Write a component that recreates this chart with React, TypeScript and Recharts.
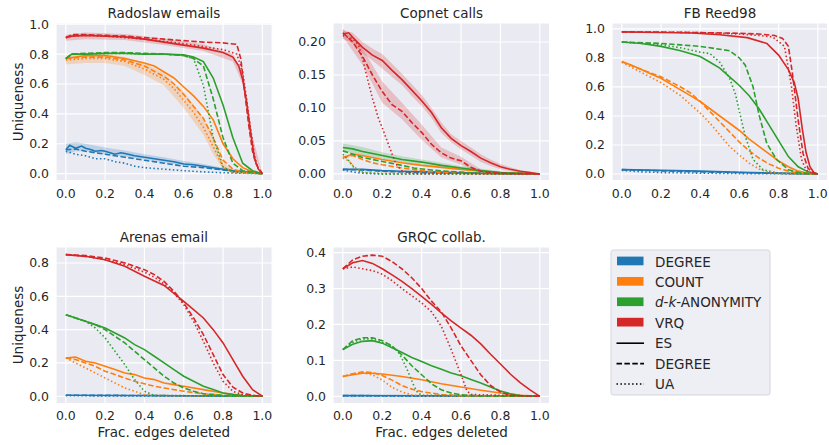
import { ComposedChart, Line, Area, XAxis, YAxis, CartesianGrid } from 'recharts';

type Pt = [number, number];
type Bd = [number, number, number];

// method colours (tab10) and line styles
const colors = ['#1f77b4', '#ff7f0e', '#2ca02c', '#d62728'];
const dashes = [undefined, '5.5 2.4', '1.5 2.4'];
const methodNames = ['DEGREE', 'COUNT', 'd-k-ANONYMITY', 'VRQ'];
const styleNames = ['ES', 'DEGREE', 'UA'];
const xTicks = [0, 0.2, 0.4, 0.6, 0.8, 1.0];

// ---------- Radoslaw emails ----------
const rDegES: Pt[] = [[0,.16],[.02,.19],[.05,.17],[.08,.185],[.1,.17],[.13,.16],[.15,.15],[.18,.155],[.2,.15],[.25,.13],[.28,.14],[.3,.135],[.35,.12],[.4,.11],[.45,.1],[.5,.09],[.55,.08],[.6,.065],[.65,.06],[.7,.05],[.75,.04],[.8,.03],[.85,.02],[.9,.015],[.95,.008],[1,0]];
const rDegDG: Pt[] = [[0,.16],[.05,.165],[.1,.15],[.15,.14],[.2,.13],[.25,.12],[.3,.11],[.35,.1],[.4,.09],[.45,.08],[.5,.07],[.55,.06],[.6,.05],[.7,.04],[.8,.025],[.9,.012],[1,0]];
const rDegUA: Pt[] = [[0,.15],[.05,.13],[.1,.12],[.15,.1],[.2,.1],[.25,.08],[.3,.07],[.35,.05],[.4,.04],[.45,.035],[.5,.03],[.6,.02],[.7,.012],[.8,.006],[.9,.003],[1,0]];
const rCntES: Pt[] = [[0,.77],[.05,.78],[.1,.79],[.2,.79],[.3,.77],[.4,.74],[.45,.72],[.5,.68],[.55,.64],[.6,.58],[.65,.52],[.7,.45],[.75,.36],[.8,.2],[.85,.1],[.9,.04],[.95,.012],[1,0]];
const rCntDG: Pt[] = [[0,.77],[.1,.78],[.2,.78],[.3,.76],[.4,.72],[.5,.65],[.55,.6],[.6,.53],[.65,.45],[.7,.37],[.75,.24],[.8,.09],[.85,.03],[.9,.01],[1,0]];
const rCntUA: Pt[] = [[0,.76],[.1,.77],[.2,.77],[.3,.75],[.4,.7],[.5,.63],[.55,.57],[.6,.49],[.65,.41],[.7,.31],[.75,.18],[.8,.045],[.85,.01],[1,0]];
const rDkES: Pt[] = [[0,.77],[.03,.8],[.1,.8],[.2,.805],[.3,.805],[.4,.8],[.5,.8],[.6,.795],[.65,.78],[.7,.75],[.75,.64],[.8,.46],[.85,.24],[.9,.07],[.95,.02],[1,0]];
const rDkDG: Pt[] = [[0,.77],[.03,.8],[.1,.805],[.2,.81],[.3,.81],[.4,.805],[.5,.8],[.6,.79],[.65,.77],[.7,.72],[.75,.5],[.8,.24],[.85,.07],[.9,.02],[1,0]];
const rDkUA: Pt[] = [[0,.77],[.03,.8],[.1,.8],[.2,.805],[.3,.805],[.4,.8],[.5,.8],[.6,.79],[.65,.77],[.7,.59],[.75,.24],[.8,.045],[.85,.01],[1,0]];
const rVrqES: Pt[] = [[0,.91],[.03,.92],[.1,.925],[.2,.92],[.3,.915],[.4,.9],[.5,.88],[.6,.86],[.7,.84],[.8,.81],[.85,.78],[.88,.72],[.9,.63],[.92,.48],[.94,.28],[.96,.1],[.98,.03],[1,0]];
const rVrqDG: Pt[] = [[0,.91],[.03,.93],[.1,.93],[.2,.925],[.3,.92],[.4,.91],[.5,.9],[.6,.89],[.7,.88],[.8,.875],[.87,.865],[.89,.77],[.91,.55],[.93,.33],[.95,.15],[.97,.06],[1,0]];
const rVrqUA: Pt[] = [[0,.91],[.03,.92],[.1,.925],[.2,.92],[.3,.91],[.4,.9],[.5,.885],[.6,.87],[.7,.85],[.8,.83],[.87,.8],[.9,.68],[.92,.5],[.94,.3],[.96,.12],[.98,.03],[1,0]];
const rDegESband: Bd[] = [[0,.13,.2],[.05,.15,.21],[.1,.15,.2],[.2,.13,.175],[.3,.115,.155],[.4,.095,.13],[.5,.075,.11],[.6,.055,.085],[.7,.04,.065],[.8,.02,.04],[.9,.008,.022],[1,0,0]];
const rCntUAband: Bd[] = [[0,.73,.79],[.1,.74,.8],[.2,.74,.8],[.3,.72,.78],[.4,.66,.74],[.5,.59,.67],[.6,.44,.55],[.7,.26,.37],[.75,.13,.24],[.8,.03,.08],[.85,0,.02],[1,0,0]];
const rVrqESband: Bd[] = [[0,.89,.93],[.1,.9,.945],[.3,.895,.935],[.5,.86,.905],[.7,.82,.865],[.85,.75,.8],[.9,.6,.68],[.95,.15,.25],[1,0,0]];

// ---------- Copnet calls ----------
const cDegES: Pt[] = [[0,.007],[.1,.007],[.2,.005],[.3,.004],[.5,.003],[.7,.001],[1,0]];
const cDegDG: Pt[] = [[0,.007],[.1,.006],[.2,.004],[.4,.002],[.6,.001],[1,0]];
const cDegUA: Pt[] = [[0,.006],[.05,.003],[.1,.001],[.2,0],[1,0]];
const cCntES: Pt[] = [[0,.025],[.05,.03],[.1,.028],[.2,.022],[.3,.017],[.4,.013],[.5,.01],[.6,.007],[.7,.004],[.8,.002],[1,0]];
const cCntDG: Pt[] = [[0,.025],[.05,.028],[.1,.022],[.15,.017],[.2,.014],[.3,.009],[.4,.005],[.5,.002],[.6,.001],[1,0]];
const cCntUA: Pt[] = [[0,.024],[.03,.02],[.06,.01],[.1,.003],[.15,.001],[1,0]];
const cDkES: Pt[] = [[0,.04],[.05,.038],[.1,.034],[.15,.031],[.2,.028],[.3,.022],[.4,.018],[.5,.013],[.6,.009],[.7,.005],[.8,.002],[.9,.001],[1,0]];
const cDkDG: Pt[] = [[0,.035],[.05,.03],[.1,.025],[.2,.019],[.25,.016],[.3,.013],[.36,.009],[.45,.006],[.53,.004],[.7,.001],[1,0]];
const cDkUA: Pt[] = [[0,.03],[.03,.02],[.06,.008],[.1,.002],[.2,0],[1,0]];
const cVrqES: Pt[] = [[0,.212],[.03,.214],[.05,.207],[.1,.192],[.15,.18],[.2,.172],[.25,.157],[.3,.143],[.35,.127],[.4,.111],[.45,.093],[.5,.07],[.55,.054],[.6,.043],[.65,.034],[.7,.024],[.75,.017],[.8,.011],[.85,.007],[.9,.004],[.95,.002],[1,0]];
const cVrqDG: Pt[] = [[0,.214],[.05,.2],[.1,.178],[.15,.15],[.2,.125],[.25,.105],[.3,.095],[.35,.078],[.4,.063],[.45,.045],[.5,.032],[.55,.024],[.6,.02],[.65,.01],[.7,.004],[.8,.001],[1,0]];
const cVrqUA: Pt[] = [[0,.21],[.05,.205],[.08,.195],[.1,.175],[.12,.15],[.15,.115],[.18,.085],[.2,.07],[.23,.046],[.25,.03],[.27,.015],[.3,.005],[.35,.001],[1,0]];
const cDkESband: Bd[] = [[0,.034,.046],[.1,.029,.041],[.2,.023,.033],[.3,.018,.027],[.4,.014,.022],[.5,.01,.017],[.6,.006,.012],[.8,.001,.004],[1,0,0]];
const cVrqESband: Bd[] = [[0,.205,.218],[.05,.198,.214],[.1,.183,.2],[.15,.172,.19],[.2,.16,.182],[.25,.147,.167],[.3,.135,.152],[.35,.118,.136],[.4,.103,.12],[.45,.085,.1],[.5,.062,.078],[.55,.048,.06],[.6,.037,.05],[.65,.028,.04],[.7,.018,.03],[.75,.012,.022],[.8,.007,.015],[.85,.004,.01],[.9,.002,.006],[1,0,.001]];
const cVrqDGband: Bd[] = [[0,.208,.22],[.1,.165,.19],[.2,.108,.14],[.3,.083,.108],[.4,.052,.075],[.5,.025,.04],[.6,.014,.026],[.7,.001,.007],[.8,0,.002],[1,0,0]];

// ---------- FB Reed98 ----------
const fDegES: Pt[] = [[0,.03],[.2,.025],[.4,.02],[.6,.012],[.8,.006],[1,0]];
const fDegDG: Pt[] = [[0,.03],[.2,.022],[.4,.015],[.6,.01],[.8,.004],[1,0]];
const fDegUA: Pt[] = [[0,.025],[.1,.015],[.2,.01],[.4,.006],[.6,.003],[1,0]];
const fCntES: Pt[] = [[0,.775],[.05,.75],[.1,.72],[.15,.69],[.2,.66],[.25,.62],[.3,.58],[.35,.54],[.4,.5],[.45,.45],[.5,.4],[.55,.35],[.6,.3],[.65,.24],[.7,.19],[.75,.14],[.8,.09],[.85,.05],[.9,.02],[.95,.005],[1,0]];
const fCntDG: Pt[] = [[0,.775],[.1,.72],[.2,.67],[.3,.6],[.35,.56],[.4,.5],[.45,.43],[.5,.36],[.55,.29],[.6,.22],[.65,.16],[.7,.11],[.75,.07],[.8,.04],[.85,.02],[.9,.007],[1,0]];
const fCntUA: Pt[] = [[0,.77],[.1,.7],[.2,.63],[.3,.54],[.35,.48],[.4,.42],[.45,.35],[.5,.27],[.55,.19],[.6,.13],[.65,.075],[.7,.035],[.75,.012],[.8,.004],[1,0]];
const fDkES: Pt[] = [[0,.91],[.1,.9],[.2,.88],[.3,.85],[.4,.81],[.45,.77],[.5,.73],[.55,.67],[.6,.61],[.65,.54],[.7,.45],[.75,.34],[.8,.23],[.85,.12],[.9,.05],[.95,.015],[1,0]];
const fDkDG: Pt[] = [[0,.91],[.2,.9],[.3,.89],[.4,.88],[.5,.86],[.55,.85],[.6,.8],[.63,.75],[.67,.6],[.7,.41],[.74,.21],[.79,.1],[.85,.03],[.9,.01],[1,0]];
const fDkUA: Pt[] = [[0,.91],[.2,.89],[.3,.87],[.4,.84],[.45,.83],[.5,.77],[.55,.66],[.58,.55],[.6,.43],[.63,.26],[.67,.1],[.72,.03],[.8,.005],[1,0]];
const fVrqES: Pt[] = [[0,.98],[.2,.975],[.36,.972],[.5,.96],[.64,.94],[.74,.9],[.8,.82],[.85,.72],[.88,.63],[.9,.52],[.92,.32],[.94,.15],[.96,.05],[.98,.01],[1,0]];
const fVrqDG: Pt[] = [[0,.98],[.2,.978],[.4,.975],[.6,.97],[.7,.965],[.78,.955],[.82,.935],[.85,.88],[.87,.7],[.9,.37],[.925,.14],[.95,.04],[.98,.005],[1,0]];
const fVrqUA: Pt[] = [[0,.98],[.2,.978],[.4,.975],[.6,.965],[.7,.955],[.77,.945],[.83,.88],[.866,.6],[.89,.33],[.917,.1],[.94,.03],[.97,.005],[1,0]];

// ---------- Arenas email ----------
const aDegES: Pt[] = [[0,.006],[.3,.005],[.6,.003],[.8,.002],[1,0]];
const aDegDG: Pt[] = [[0,.006],[.3,.005],[.6,.003],[.8,.001],[1,0]];
const aDegUA: Pt[] = [[0,.004],[.2,.002],[.5,.001],[1,0]];
const aCntES: Pt[] = [[0,.23],[.05,.235],[.1,.21],[.15,.2],[.2,.18],[.25,.16],[.3,.14],[.35,.13],[.4,.11],[.45,.1],[.5,.08],[.55,.07],[.6,.06],[.7,.04],[.8,.02],[.9,.005],[1,0]];
const aCntDG: Pt[] = [[0,.23],[.05,.22],[.1,.2],[.15,.18],[.2,.15],[.25,.13],[.3,.11],[.35,.09],[.4,.075],[.45,.06],[.5,.05],[.6,.03],[.7,.015],[.8,.005],[1,0]];
const aCntUA: Pt[] = [[0,.23],[.05,.2],[.1,.17],[.15,.14],[.2,.11],[.25,.08],[.3,.05],[.35,.03],[.4,.01],[.45,.004],[1,0]];
const aDkES: Pt[] = [[0,.49],[.05,.47],[.1,.45],[.15,.43],[.2,.41],[.25,.38],[.3,.35],[.35,.31],[.4,.28],[.45,.24],[.5,.2],[.55,.16],[.6,.12],[.65,.09],[.7,.06],[.75,.04],[.8,.02],[.85,.01],[.9,.005],[1,0]];
const aDkDG: Pt[] = [[0,.49],[.05,.47],[.1,.45],[.15,.43],[.2,.4],[.25,.36],[.3,.32],[.35,.27],[.4,.22],[.45,.17],[.5,.12],[.55,.08],[.6,.05],[.65,.03],[.7,.015],[.8,.005],[1,0]];
const aDkUA: Pt[] = [[0,.49],[.05,.47],[.1,.45],[.15,.41],[.2,.35],[.25,.27],[.3,.19],[.35,.1],[.4,.03],[.45,.005],[1,0]];
const aVrqES: Pt[] = [[0,.85],[.1,.84],[.2,.82],[.3,.78],[.4,.72],[.5,.665],[.6,.57],[.65,.52],[.7,.47],[.75,.4],[.8,.32],[.85,.22],[.9,.12],[.95,.04],[1,0]];
const aVrqDG: Pt[] = [[0,.85],[.1,.845],[.2,.83],[.3,.8],[.4,.76],[.45,.73],[.5,.69],[.55,.63],[.6,.56],[.65,.47],[.7,.37],[.75,.25],[.8,.13],[.85,.055],[.9,.02],[.95,.005],[1,0]];
const aVrqUA: Pt[] = [[0,.85],[.1,.84],[.2,.82],[.3,.79],[.4,.745],[.45,.715],[.5,.675],[.55,.62],[.6,.55],[.65,.45],[.7,.33],[.75,.2],[.8,.09],[.85,.03],[.9,.01],[1,0]];

// ---------- GRQC collab. ----------
const gDegES: Pt[] = [[0,.002],[.5,.0015],[1,0]];
const gDegDG: Pt[] = [[0,.002],[.5,.001],[1,0]];
const gDegUA: Pt[] = [[0,.001],[.3,.0005],[1,0]];
const gCntES: Pt[] = [[0,.055],[.05,.06],[.1,.064],[.15,.064],[.2,.062],[.3,.055],[.4,.046],[.5,.035],[.6,.026],[.7,.017],[.8,.009],[.9,.003],[1,0]];
const gCntDG: Pt[] = [[0,.055],[.05,.063],[.1,.068],[.15,.066],[.2,.058],[.25,.045],[.3,.03],[.35,.02],[.4,.013],[.5,.005],[.6,.002],[1,0]];
const gCntUA: Pt[] = [[0,.055],[.05,.062],[.1,.065],[.15,.06],[.2,.045],[.25,.025],[.3,.012],[.35,.004],[.4,.001],[1,0]];
const gDkES: Pt[] = [[0,.13],[.05,.145],[.1,.153],[.15,.155],[.2,.148],[.25,.135],[.3,.122],[.35,.108],[.4,.097],[.45,.085],[.5,.075],[.55,.065],[.6,.057],[.65,.047],[.7,.037],[.75,.026],[.8,.015],[.85,.007],[.9,.002],[1,0]];
const gDkDG: Pt[] = [[0,.13],[.05,.155],[.1,.163],[.15,.163],[.2,.155],[.25,.14],[.3,.115],[.35,.085],[.4,.06],[.45,.035],[.5,.018],[.55,.009],[.6,.004],[.7,.001],[1,0]];
const gDkUA: Pt[] = [[0,.13],[.05,.15],[.1,.16],[.15,.16],[.2,.15],[.25,.14],[.28,.125],[.3,.105],[.33,.07],[.36,.03],[.38,.01],[.4,.003],[1,0]];
const gVrqES: Pt[] = [[0,.355],[.05,.372],[.1,.378],[.15,.37],[.2,.355],[.25,.338],[.3,.32],[.35,.3],[.4,.278],[.45,.256],[.5,.232],[.55,.21],[.6,.19],[.65,.17],[.7,.146],[.75,.117],[.8,.09],[.85,.062],[.9,.038],[.95,.018],[1,0]];
const gVrqDG: Pt[] = [[0,.355],[.05,.38],[.1,.39],[.15,.393],[.2,.39],[.25,.375],[.3,.355],[.35,.33],[.4,.3],[.45,.265],[.5,.235],[.55,.19],[.6,.14],[.65,.1],[.7,.06],[.75,.03],[.8,.012],[.85,.003],[1,0]];
const gVrqUA: Pt[] = [[0,.355],[.05,.36],[.1,.355],[.15,.35],[.2,.34],[.25,.322],[.3,.3],[.35,.28],[.4,.26],[.45,.235],[.5,.195],[.55,.13],[.6,.06],[.63,.015],[.65,.005],[1,0]];

const YW = 50;
const XH = 24;
const MT = 12; // room above the plot so the top tick label isn't clipped
const MR = 12;
const FONT = 'DejaVu Sans';
const TXT = '#262626';

const f1 = (v: number) => v.toFixed(1);
const f2 = (v: number) => v.toFixed(2);

function buildTable(lines: Pt[][], bands: { idx: number; pts: Bd[] }[]) {
  const rows = new Map<number, any>();
  const row = (x: number) => {
    if (!rows.has(x)) rows.set(x, { x });
    return rows.get(x);
  };
  lines.forEach((pts, i) => pts.forEach(([x, y]) => { row(x)['s' + i] = y; }));
  bands.forEach((b, j) => b.pts.forEach(([x, lo, hi]) => { row(x)['b' + j] = [lo, hi]; }));
  return [...rows.values()].sort((a, b) => a.x - b.x);
}

const panels = [
  { title: 'Radoslaw emails', left: 55.7, top: 23, w: 216.2, h: 157.7, dom: [-0.047, 1.008], ticks: [0, .2, .4, .6, .8, 1], fmt: f1, ylabel: true, xlabel: false,
    lines: [rDegES, rDegDG, rDegUA, rCntES, rCntDG, rCntUA, rDkES, rDkDG, rDkUA, rVrqES, rVrqDG, rVrqUA],
    bands: [{ idx: 0, pts: rDegESband }, { idx: 5, pts: rCntUAband }, { idx: 9, pts: rVrqESband }] },
  { title: 'Copnet calls', left: 333.2, top: 23, w: 216.7, h: 157.7, dom: [-0.0102, 0.2288], ticks: [0, .05, .1, .15, .2], fmt: f2, ylabel: false, xlabel: false,
    lines: [cDegES, cDegDG, cDegUA, cCntES, cCntDG, cCntUA, cDkES, cDkDG, cDkUA, cVrqES, cVrqDG, cVrqUA],
    bands: [{ idx: 6, pts: cDkESband }, { idx: 9, pts: cVrqESband }, { idx: 10, pts: cVrqDGband }] },
  { title: 'FB Reed98', left: 612.2, top: 23, w: 215.6, h: 157.7, dom: [-0.046, 1.041], ticks: [0, .2, .4, .6, .8, 1], fmt: f1, ylabel: false, xlabel: false,
    lines: [fDegES, fDegDG, fDegUA, fCntES, fCntDG, fCntUA, fDkES, fDkDG, fDkUA, fVrqES, fVrqDG, fVrqUA], bands: [] },
  { title: 'Arenas email', left: 55.7, top: 246.7, w: 216.2, h: 156.6, dom: [-0.044, 0.896], ticks: [0, .2, .4, .6, .8], fmt: f1, ylabel: true, xlabel: true,
    lines: [aDegES, aDegDG, aDegUA, aCntES, aCntDG, aCntUA, aDkES, aDkDG, aDkUA, aVrqES, aVrqDG, aVrqUA], bands: [] },
  { title: 'GRQC collab.', left: 333.2, top: 246.7, w: 216.7, h: 156.6, dom: [-0.0203, 0.4157], ticks: [0, .1, .2, .3, .4], fmt: f1, ylabel: false, xlabel: true,
    lines: [gDegES, gDegDG, gDegUA, gCntES, gCntDG, gCntUA, gDkES, gDkDG, gDkUA, gVrqES, gVrqDG, gVrqUA], bands: [] },
];

function Panel({ p }: { p: (typeof panels)[number] }) {
  const data = buildTable(p.lines, p.bands);
  const tick = { fill: TXT, fontSize: 12.5, fontFamily: FONT };
  return (
    <div style={{ position: 'absolute', left: p.left - YW, top: p.top - MT }}>
      <ComposedChart width={YW + p.w + MR} height={MT + p.h + XH} data={data} margin={{ top: MT, right: MR, bottom: 0, left: 0 }}>
        <CartesianGrid stroke="#ffffff" strokeWidth={1.2} fill="#EAEAF2" fillOpacity={1} />
        <XAxis type="number" dataKey="x" domain={[-0.05, 1.05]} ticks={xTicks} tickFormatter={f1} allowDataOverflow
          axisLine={false} tickLine={false} tickSize={0} tickMargin={8} height={XH} tick={tick} interval={0} />
        <YAxis type="number" domain={p.dom} ticks={p.ticks} tickFormatter={p.fmt} allowDataOverflow
          axisLine={false} tickLine={false} tickSize={0} tickMargin={7} width={YW} tick={tick} interval={0} />
        {p.bands.map((b, j) => (
          <Area key={'b' + j} type="linear" dataKey={'b' + j} stroke="none" fill={colors[Math.floor(b.idx / 3)]}
            fillOpacity={0.22} connectNulls dot={false} activeDot={false} isAnimationActive={false} />
        ))}
        {p.lines.map((_, i) => (
          <Line key={'s' + i} type="linear" dataKey={'s' + i} stroke={colors[Math.floor(i / 3)]} strokeWidth={1.6}
            strokeDasharray={dashes[i % 3]} dot={false} activeDot={false} connectNulls isAnimationActive={false} />
        ))}
      </ComposedChart>
    </div>
  );
}

function Overlay() {
  const lx = 611, ly = 250, base = 266.6, step = 20.4;
  return (
    <svg width={829} height={445} style={{ position: 'absolute', left: 0, top: 0, pointerEvents: 'none' }}
      fontFamily={FONT} fill={TXT}>
      {panels.map((p) => (
        <g key={p.title}>
          <text x={p.left + p.w / 2} y={p.top < 100 ? 18 : 241.5} textAnchor="middle" fontSize={13.5}>{p.title}</text>
          {p.ylabel && (
            <text transform={`translate(22.8, ${p.top + p.h / 2}) rotate(-90)`} textAnchor="middle" fontSize={13.5}>Uniqueness</text>
          )}
          {p.xlabel && (
            <text x={p.left + p.w / 2} y={436.5} textAnchor="middle" fontSize={13.5}>Frac. edges deleted</text>
          )}
        </g>
      ))}
      <rect x={lx} y={ly} width={159} height={145} rx={2.5} fill="#EEEEF5" stroke="#D5D5DD" strokeWidth={1} />
      {methodNames.map((m, i) => (
        <g key={m}>
          <rect x={617} y={base + i * step - 10} width={26.5} height={8.7} fill={colors[i]} />
          <text x={655} y={base + i * step} fontSize={13.5}>
            {m === 'd-k-ANONYMITY' ? (<><tspan fontStyle="italic">d</tspan>-<tspan fontStyle="italic">k</tspan>-ANONYMITY</>) : m}
          </text>
        </g>
      ))}
      {styleNames.map((s, j) => {
        const y = base + (j + 4) * step;
        return (
          <g key={s + j}>
            <line x1={616.5} x2={644} y1={y - 5} y2={y - 5} stroke="#000" strokeWidth={1.6} strokeDasharray={dashes[j]} />
            <text x={655} y={y} fontSize={13.5}>{s}</text>
          </g>
        );
      })}
    </svg>
  );
}

export default function App() {
  return (
    <div style={{ position: 'absolute', left: 0, top: 0, width: 829, height: 445, background: '#fff', overflow: 'hidden', fontFamily: FONT }}>
      {panels.map((p) => <Panel key={p.title} p={p} />)}
      <Overlay />
    </div>
  );
}
